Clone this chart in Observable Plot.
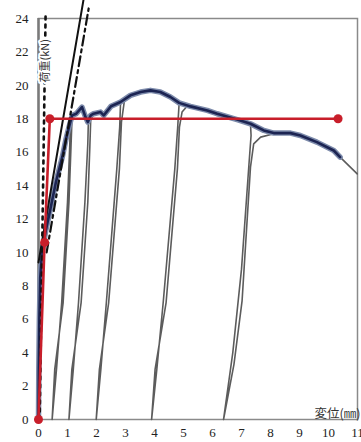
<!DOCTYPE html>
<html>
<head>
<meta charset="utf-8">
<script src="https://cdn.jsdelivr.net/npm/d3@7"></script>
<script src="https://cdn.jsdelivr.net/npm/@observablehq/plot@0.6"></script>
<style>
  html, body { margin: 0; padding: 0; background: #fff; }
  #chart svg { display: block; overflow: visible; }
</style>
</head>
<body>
<div id="chart"></div>
<script>
// ---- data (displacement mm, load kN) ----
const xTicks = [0,1,2,3,4,5,6,7,8,9,10,11];
const yTicks = [0,2,4,6,8,10,12,14,16,18,20,22,24];
const xLabel = "変位(㎜)";
const yLabel = "荷重(kN)";

// full measured curve incl. unloading / reloading loops
const curveDisp = [0,0.01,0.03,0.06,0.12,0.25,0.41,0.6,0.82,0.95,1.05,1.1,
  1.08,1.0,0.8,0.62,0.47,
  0.56,0.85,1.05,1.12,1.16,
  1.3,1.5,1.6,1.72,
  1.7,1.6,1.38,1.2,1.05,
  1.15,1.47,1.7,1.77,1.8,1.9,
  2.14,2.25,2.5,2.83,
  2.8,2.7,2.34,2.15,1.99,
  2.1,2.42,2.79,2.86,2.96,
  3.17,3.52,3.86,4.2,4.55,4.85,
  4.8,4.7,4.3,4.08,3.9,
  4.02,4.4,4.79,4.86,4.95,5.1,5.24,
  5.82,6.16,6.85,7.31,
  7.33,7.25,7.0,6.7,6.38,
  6.74,7.02,7.2,7.31,7.42,7.66,8.11,
  8.69,9.03,9.6,10.18,10.4,10.99];
const curveLoad = [0,3,6,8.5,10,11.3,12.6,14.2,15.7,16.8,17.5,17.85,
  16.5,13,7,3,0,
  3,7,13,16.3,18.2,
  18.3,18.7,18.2,17.85,
  16.5,13,7,3,0,
  3,7,13,16.3,17.9,18.3,
  18.4,18.2,18.75,19.0,
  17.5,15,7,3,0,
  3,7,15,17.8,19.05,
  19.4,19.6,19.7,19.6,19.3,18.95,
  17.5,15,7,3,0,
  3,7,15,17.5,18.4,18.7,18.74,
  18.5,18.3,17.95,17.7,
  17.0,15.1,9,4,0,
  3.3,7.1,12.1,15.1,16.5,16.9,17.1,
  17.14,17.0,16.6,16.1,15.7,14.7];

// skeleton (envelope) curve
const skeletonDisp = [0,0.01,0.03,0.06,0.12,0.25,0.41,0.6,0.82,0.95,1.05,1.16,1.3,1.5,1.6,1.7,1.8,1.9,2.14,2.25,2.5,2.83,3.17,3.52,3.86,4.2,4.55,4.85,5.24,5.82,6.16,6.85,7.31,7.77,8.11,8.69,9.03,9.6,10.18,10.4];
const skeletonLoad = [0,3,6,8.5,10,11.3,12.6,14.2,15.7,16.8,17.5,18.2,18.3,18.7,18.2,17.8,18.2,18.3,18.4,18.2,18.75,19.0,19.4,19.6,19.7,19.6,19.3,18.95,18.74,18.5,18.3,17.95,17.7,17.3,17.14,17.14,17.0,16.6,16.1,15.7];

// bilinear model (red)
const bilinearDisp = [0,0.21,0.39,10.33];
const bilinearLoad = [0,10.6,18,18];

// reference straight lines
const solidDisp = [0,1.55];
const solidLoad = [9.4,25.1];
const dashDotDisp = [0.28,1.73];
const dashDotLoad = [10,24.6];
const dottedDisp = [0.04,0.245];
const dottedLoad = [0,24.3];

const toPts = (xs, ys) => xs.map((x, i) => ({x, y: ys[i]}));
const curve = toPts(curveDisp, curveLoad);
const skeleton = toPts(skeletonDisp, skeletonLoad);
const bilinear = toPts(bilinearDisp, bilinearLoad);
const solid = toPts(solidDisp, solidLoad);
const dashDot = toPts(dashDotDisp, dashDotLoad);
const dotted = toPts(dottedDisp, dottedLoad);

const red = "#c81e2a";

const chart = Plot.plot({
  width: 361,
  height: 442,
  marginTop: 18,
  marginBottom: 23,
  marginLeft: 38,
  marginRight: 4,
  style: {fontFamily: "'Liberation Serif', serif", fontSize: "13px", color: "#222", background: "#fff"},
  x: {domain: [0, 11], ticks: xTicks, tickSize: 0, tickPadding: 8, label: null, tickFormat: d => d},
  y: {domain: [0, 24], ticks: yTicks, tickSize: 0, tickPadding: 10, label: null, tickFormat: d => d},
  marks: [
    Plot.frame({stroke: "#8a8a8a", strokeWidth: 1.5}),
    Plot.ruleX([0], {stroke: "#7a7a7a", strokeWidth: 2.5}),
    Plot.line(curve, {x: "x", y: "y", stroke: "#5c5c5c", strokeWidth: 1.6}),
    Plot.line(skeleton, {x: "x", y: "y", stroke: "#7d8bab", strokeWidth: 5.5, strokeLinejoin: "round"}),
    Plot.line(skeleton, {x: "x", y: "y", stroke: "#1c2452", strokeWidth: 2.6, strokeLinejoin: "round"}),
    Plot.line(solid, {x: "x", y: "y", stroke: "#111", strokeWidth: 2}),
    Plot.line(dashDot, {x: "x", y: "y", stroke: "#111", strokeWidth: 2.2, strokeDasharray: "10,4,3,4"}),
    Plot.line(dotted, {x: "x", y: "y", stroke: "#111", strokeWidth: 2.6, strokeDasharray: "3,5"}),
    Plot.line(bilinear, {x: "x", y: "y", stroke: red, strokeWidth: 2.6}),
    Plot.dot(bilinear, {x: "x", y: "y", r: 4.5, fill: red}),
    Plot.text([xLabel], {frameAnchor: "bottom-right", textAnchor: "end", lineAnchor: "bottom", dx: 3, dy: -2,
      fontFamily: "'Noto Sans CJK JP', sans-serif", fontSize: 12.5, fill: "#333"}),
    Plot.text([yLabel], {frameAnchor: "top-left", rotate: -90, textAnchor: "start", lineAnchor: "middle", dx: 7, dy: 64,
      fontFamily: "'Noto Sans CJK JP', sans-serif", fontSize: 11, fill: "#333", stroke: "#fff", strokeWidth: 4})
  ]
});
document.getElementById("chart").appendChild(chart);
</script>
</body>
</html>
